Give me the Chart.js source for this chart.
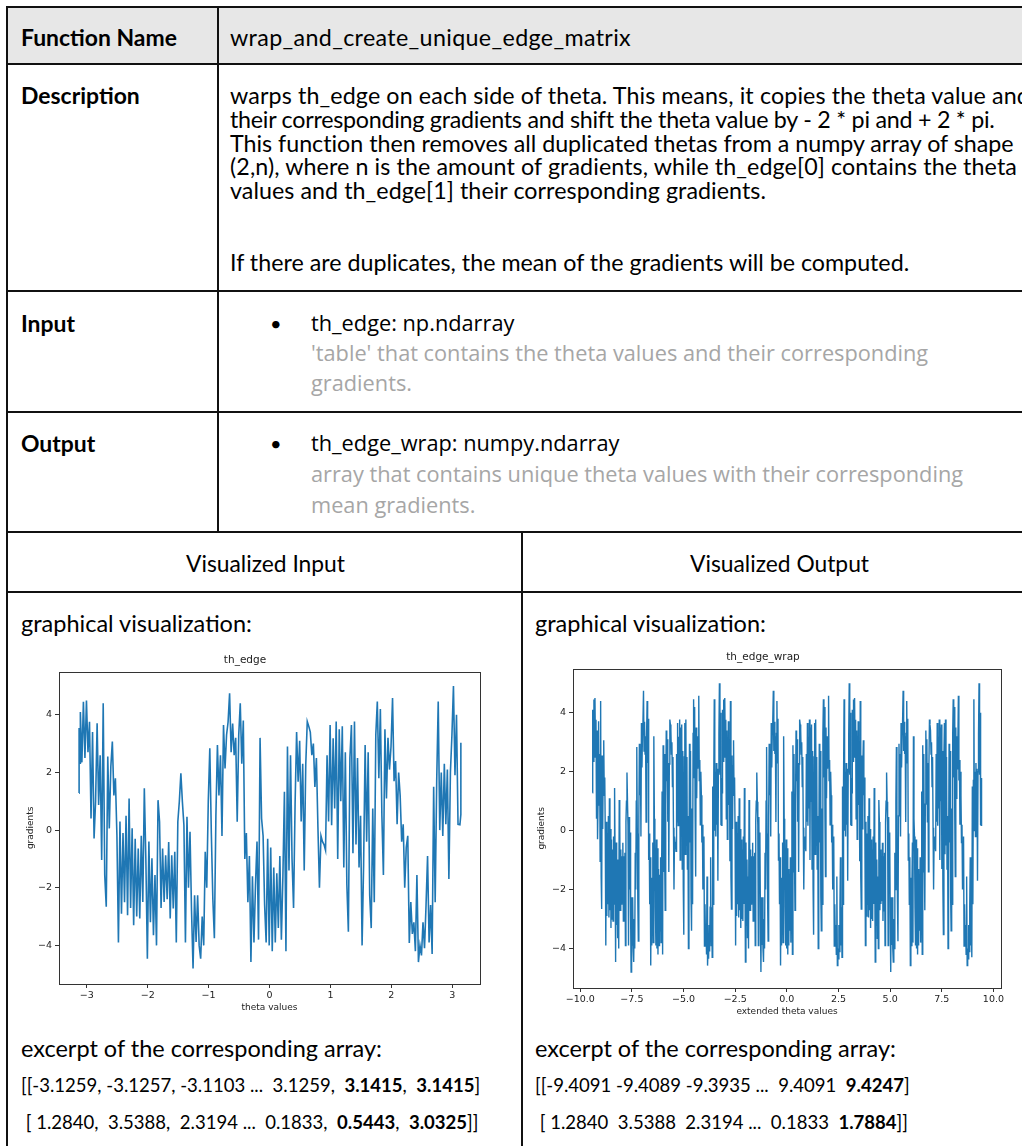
<!DOCTYPE html>
<html>
<head>
<meta charset="utf-8">
<script src="https://cdn.jsdelivr.net/npm/chart.js@4.4.0/dist/chart.umd.min.js"></script>
<style>
  html, body { margin: 0; padding: 0; background: #fff; }
  body { width: 1022px; height: 1146px; overflow: hidden; position: relative; font-family: Lato, "Open Sans", sans-serif; color: #000; }
  .t { position: absolute; white-space: pre; line-height: 24px; }
  .head { font-weight: bold; font-size: 20px; left: 21px; }
  .desc { font-size: 19.5px; left: 230px; }
  .item { font-family: "Open Sans", sans-serif; font-size: 18.5px; line-height: 30px; left: 311px; }
  .gray { color: #a6a6a6; }
  .bullet { font-size: 20px; left: 270px; line-height: 30px; }
  .vis { font-size: 20px; }
  .label { font-size: 22px; line-height: 28px; }
  .arr { font-size: 17px; }
  .hl, .vl { position: absolute; background: #111; }
  .hl { height: 2px; left: 6px; width: 1040px; }
  .vl { width: 2px; }
  canvas { position: absolute; }
</style>
</head>
<body>
<div style="position:absolute; left:8px; top:8px; width:1040px; height:55px; background:#e7e7e7;"></div>

<div class="hl" style="top:6px"></div>
<div class="hl" style="top:63px"></div>
<div class="hl" style="top:290px"></div>
<div class="hl" style="top:411px"></div>
<div class="hl" style="top:531px"></div>
<div class="hl" style="top:591px"></div>
<div class="vl" style="left:6px; top:6px; height:1140px"></div>
<div class="vl" style="left:217px; top:6px; height:527px"></div>
<div class="vl" style="left:521px; top:531px; height:615px"></div>

<div class="t head" data-group="head" data-w="156" style="top:25px">Function Name</div>
<div class="t head" data-group="head" style="top:83px">Description</div>
<div class="t head" data-group="head" style="top:311px">Input</div>
<div class="t head" data-group="head" style="top:431px">Output</div>

<div class="t desc" data-group="desc" data-ls="401" style="top:25px">wrap_and_create_unique_edge_matrix</div>
<div class="t desc" data-group="desc" data-ls="800" style="top:83px">warps th_edge on each side of theta. This means, it copies the theta value and</div>
<div class="t desc" data-group="desc" data-ls="764" style="top:106.75px">their corresponding gradients and shift the theta value by - 2 * pi and + 2 * pi.</div>
<div class="t desc" data-group="desc" data-ls="784" style="top:130.5px">This function then removes all duplicated thetas from a numpy array of shape</div>
<div class="t desc" data-group="desc" data-ls="787" style="top:154.25px">(2,n), where n is the amount of gradients, while th_edge[0] contains the theta</div>
<div class="t desc" data-group="desc" data-ls="536" style="top:178px">values and th_edge[1] their corresponding gradients.</div>
<div class="t desc" data-group="desc" data-w="679" style="top:250px">If there are duplicates, the mean of the gradients will be computed.</div>

<div class="t bullet" style="top:308px">•</div>
<div class="t item" data-group="item" style="top:308px">th_edge: np.ndarray</div>
<div class="t item gray" data-group="item" data-w="617" style="top:338px">'table' that contains the theta values and their corresponding</div>
<div class="t item gray" data-group="item" style="top:368px">gradients.</div>

<div class="t bullet" style="top:428px">•</div>
<div class="t item" data-group="item" style="top:428px">th_edge_wrap: numpy.ndarray</div>
<div class="t item gray" data-group="item" style="top:459px">array that contains unique theta values with their corresponding</div>
<div class="t item gray" data-group="item" style="top:490px">mean gradients.</div>

<div class="t vis" data-group="vis" data-w="159" style="top:551px; left:186px">Visualized Input</div>
<div class="t vis" data-group="vis" style="top:551px; left:690px">Visualized Output</div>

<div class="t label" data-group="label" data-w="231" style="top:609px; left:21px">graphical visualization:</div>
<div class="t label" data-group="label" style="top:609px; left:535px">graphical visualization:</div>
<div class="t label" data-group="label" style="top:1034px; left:21px">excerpt of the corresponding array:</div>
<div class="t label" data-group="label" style="top:1034px; left:535px">excerpt of the corresponding array:</div>

<div class="t arr" id="in-theta" data-group="arr" data-w="459" style="top:1073px; left:21px"></div>
<div class="t arr" id="in-grad" data-group="arr" style="top:1110px; left:21px"></div>
<div class="t arr" id="out-theta" data-group="arr" style="top:1073px; left:535px"></div>
<div class="t arr" id="out-grad" data-group="arr" style="top:1110px; left:535px"></div>

<canvas id="inputChart" width="490" height="368" style="left:10px; top:648px"></canvas>
<canvas id="outputChart" width="496" height="375" style="left:525px; top:645px"></canvas>

<script>
// th_edge[0]: theta values
const thetaValues = [
  -3.1259, -3.1257, -3.1103, -3.105, -3.08, -3.055, -3.03, -3.005, -2.98, -2.955,
  -2.93, -2.905, -2.88, -2.855, -2.83, -2.805, -2.78, -2.755, -2.73, -2.705,
  -2.68, -2.655, -2.63, -2.605, -2.58, -2.555, -2.53, -2.505, -2.48, -2.455,
  -2.43, -2.405, -2.38, -2.355, -2.33, -2.305, -2.28, -2.255, -2.23, -2.205,
  -2.18, -2.155, -2.13, -2.105, -2.08, -2.055, -2.03, -2.005, -1.98, -1.955,
  -1.93, -1.905, -1.88, -1.855, -1.83, -1.805, -1.78, -1.755, -1.73, -1.705,
  -1.68, -1.655, -1.63, -1.605, -1.58, -1.555, -1.53, -1.505, -1.48, -1.455,
  -1.43, -1.405, -1.38, -1.355, -1.33, -1.305, -1.28, -1.255, -1.23, -1.205,
  -1.18, -1.155, -1.13, -1.105, -1.08, -1.055, -1.03, -1.005, -0.98, -0.955,
  -0.93, -0.905, -0.88, -0.855, -0.83, -0.805, -0.78, -0.755, -0.73, -0.705,
  -0.68, -0.655, -0.63, -0.605, -0.58, -0.555, -0.53, -0.505, -0.48, -0.455,
  -0.43, -0.405, -0.38, -0.355, -0.33, -0.305, -0.28, -0.255, -0.23, -0.205,
  -0.18, -0.155, -0.13, -0.105, -0.08, -0.055, -0.03, -0.005, 0.02, 0.045,
  0.07, 0.095, 0.12, 0.145, 0.17, 0.195, 0.22, 0.245, 0.27, 0.295,
  0.32, 0.345, 0.37, 0.395, 0.42, 0.445, 0.47, 0.495, 0.52, 0.545,
  0.57, 0.595, 0.62, 0.645, 0.67, 0.695, 0.72, 0.745, 0.77, 0.795,
  0.82, 0.845, 0.87, 0.895, 0.92, 0.945, 0.97, 0.995, 1.02, 1.045,
  1.07, 1.095, 1.12, 1.145, 1.17, 1.195, 1.22, 1.245, 1.27, 1.295,
  1.32, 1.345, 1.37, 1.395, 1.42, 1.445, 1.47, 1.495, 1.52, 1.545,
  1.57, 1.595, 1.62, 1.645, 1.67, 1.695, 1.72, 1.745, 1.77, 1.795,
  1.82, 1.845, 1.87, 1.895, 1.92, 1.945, 1.97, 1.995, 2.02, 2.045,
  2.07, 2.095, 2.12, 2.145, 2.17, 2.195, 2.22, 2.245, 2.27, 2.295,
  2.32, 2.345, 2.37, 2.395, 2.42, 2.445, 2.47, 2.495, 2.52, 2.545,
  2.57, 2.595, 2.62, 2.645, 2.67, 2.695, 2.72, 2.745, 2.77, 2.795,
  2.82, 2.845, 2.87, 2.895, 2.92, 2.945, 2.97, 2.995, 3.02, 3.045,
  3.07, 3.095, 3.1259, 3.1415, 3.1415
];

// th_edge[1]: gradients at those thetas
const gradientValues = [
  1.284, 3.5388, 2.3194, 4.1, 2.35, 4.45, 2.5, 4.5, 2.7, 3.76,
  0.4, 3.4, -0.29, 1.0, 3.71, 0.87, 2.6, -1.04, 4.4, -1.56,
  -2.66, 2.55, 0.06, 2.2, 3.07, 1.2, 1.8, -0.17, -3.9, 0.3,
  -2.9, -0.1, -2.5, 0.5, -2.95, 1.1, -2.7, 0.06, -3.3, -0.3,
  -3.0, -0.64, -3.07, -0.2, -2.49, 1.45, -1.0, -4.46, -0.4, -3.2,
  -0.98, -3.65, -1.56, -4.0, 1.04, 0.29, -2.7, -0.64, -2.49, -0.87,
  -2.4, -0.41, -3.07, -0.87, -2.72, -0.75, -3.9, 0.29, 1.0, 1.97,
  0.98, 0.17, -3.9, 0.46, -2.0, -0.06, -2.8, -4.8, -2.26, -3.88,
  -2.26, -4.0, -4.46, -3.0, -4.0, -0.75, -2.0, 1.0, 2.84, -0.1,
  -2.4, -3.75, 0.5, 2.95, 1.2, 2.6, -0.2, 3.65, 2.14, 3.3,
  3.75, 4.75, 2.7, 3.7, 2.6, 3.2, 0.29, 3.3, 4.4, 2.3,
  3.8, -1.0, -0.1, -2.5, -0.9, -4.58, -1.6, -3.9, -1.9, -0.4,
  -3.8, 3.2, 0.4, -0.2, -2.6, -3.9, -0.3, -4.0, -0.6, -4.2,
  -1.3, -3.9, -1.5, -3.4, -0.9, -3.8, -1.6, 1.33, -4.2, 2.9,
  -1.4, 2.6, -1.0, -2.7, 0.9, 3.4, 1.68, 3.1, 0.3, 2.3,
  -1.4, 2.26, 3.77, 3.6, 3.4, 2.6, 3.0, 1.5, 2.5, 0.1,
  -2.0, -0.2, -0.4, -0.5, -0.7, 2.6, 0.3, 3.65, 0.17, 3.19,
  0.75, 3.77, -1.0, 3.5, 1.0, 3.6, -1.3, 2.7, -1.9, -3.53,
  2.5, 3.65, -0.8, 3.77, -0.5, 2.5, -1.3, 0.5, -4.0, -1.2,
  2.95, -0.4, 2.7, -2.26, -3.4, 0.75, -2.5, 3.3, 4.46, 1.8,
  4.2, 0.5, -1.56, 3.5, 1.1, 3.2, 2.1, 2.9, 4.58, 1.7,
  2.4, 0.2, 2.0, 1.2, -0.4, 0.2, -2.0, -0.6, -0.2, -3.92,
  -2.5, -3.6, -3.2, -4.2, -1.56, -4.58, -4.0, -4.35, -3.2, -4.1,
  -2.6, -0.9, -3.9, -2.6, -4.3, 1.5, -2.5, 1.7, 4.46, 0.0,
  2.0, -0.2, 2.3, 0.2, 2.1, -1.7, 2.0, 3.3, 5.0, 1.9,
  4.0, 0.2, 0.1833, 0.5443, 3.0325
];

// Axis ticks
const inputXTicks = [-3, -2, -1, 0, 1, 2, 3];
const outputXTicks = [-10, -7.5, -5, -2.5, 0, 2.5, 5, 7.5, 10];
const yTicks = [-4, -2, 0, 2, 4];
const wrapShifts = [-2 * Math.PI, 0, 2 * Math.PI];

// wrap: copy thetas shifted by -2pi, 0, +2pi, then merge duplicated thetas (mean of gradients)
function wrapAndCreateUniqueEdgeMatrix(thetas, grads) {
  const groups = new Map();
  wrapShifts.forEach(shift => {
    thetas.forEach((t, i) => {
      const key = (t + shift).toFixed(4);
      if (!groups.has(key)) groups.set(key, { theta: +key, sum: 0, n: 0 });
      const g = groups.get(key);
      g.sum += grads[i];
      g.n += 1;
    });
  });
  const rows = [...groups.values()].sort((a, b) => a.theta - b.theta);
  return { theta: rows.map(r => r.theta), grad: rows.map(r => r.sum / r.n) };
}

const wrapped = wrapAndCreateUniqueEdgeMatrix(thetaValues, gradientValues);

// Excerpt text under the plots
const f4 = v => v.toFixed(4);
const n = thetaValues.length;
const m = wrapped.theta.length;
document.getElementById('in-theta').innerHTML =
  `[[${f4(thetaValues[0])}, ${f4(thetaValues[1])}, ${f4(thetaValues[2])} ...  ${f4(thetaValues[n - 3])},  <b>${f4(thetaValues[n - 2])}</b>,  <b>${f4(thetaValues[n - 1])}</b>]`;
document.getElementById('in-grad').innerHTML =
  ` [ ${f4(gradientValues[0])},  ${f4(gradientValues[1])},  ${f4(gradientValues[2])} ...  ${f4(gradientValues[n - 3])},  <b>${f4(gradientValues[n - 2])}</b>,  <b>${f4(gradientValues[n - 1])}</b>]]`;
document.getElementById('out-theta').innerHTML =
  `[[${f4(wrapped.theta[0])} ${f4(wrapped.theta[1])} ${f4(wrapped.theta[2])} ...  ${f4(wrapped.theta[m - 2])}  <b>${f4(wrapped.theta[m - 1])}</b>]`;
document.getElementById('out-grad').innerHTML =
  ` [ ${f4(wrapped.grad[0])}  ${f4(wrapped.grad[1])}  ${f4(wrapped.grad[2])} ...  ${f4(wrapped.grad[m - 2])}  <b>${f4(wrapped.grad[m - 1])}</b>]]`;

// Fit text to the widths seen in the reference: font size per group, then letter spacing per line
function fitGroup(name) {
  const ref = document.querySelector(`[data-group="${name}"][data-w]`);
  ref.style.letterSpacing = '0px';
  const fs = parseFloat(getComputedStyle(ref).fontSize);
  const size = fs * (+ref.dataset.w) / ref.getBoundingClientRect().width;
  document.querySelectorAll(`[data-group="${name}"]`).forEach(el => { el.style.fontSize = size + 'px'; });
}
function fitSpacing() {
  document.querySelectorAll('[data-ls]').forEach(el => {
    el.style.letterSpacing = '0px';
    const w = el.getBoundingClientRect().width;
    el.style.letterSpacing = ((+el.dataset.ls - w) / el.textContent.length) + 'px';
  });
}
function fitAll() {
  ['head', 'desc', 'item', 'vis', 'label', 'arr'].forEach(fitGroup);
  fitSpacing();
}
fitAll();
if (document.fonts) document.fonts.ready.then(fitAll);

// Charts
Chart.defaults.font.family = '"DejaVu Sans", sans-serif';
Chart.defaults.color = '#222';

const framePlugin = {
  id: 'frame',
  afterDraw(chart) {
    const { ctx, chartArea: a } = chart;
    ctx.save();
    ctx.strokeStyle = '#333';
    ctx.lineWidth = 1;
    ctx.strokeRect(Math.round(a.left) + 0.5, Math.round(a.top) + 0.5, Math.round(a.width), Math.round(a.height));
    ctx.restore();
  }
};

const minus = s => String(s).replace('-', '\u2212');

function makeChart(canvasId, opts) {
  const tickFont = { size: 9.5 };
  const grid = { display: true, drawOnChartArea: false, drawTicks: true, tickLength: 4, color: '#333', lineWidth: 1 };
  return new Chart(document.getElementById(canvasId), {
    type: 'line',
    data: {
      datasets: [{
        data: opts.xs.map((x, i) => ({ x: x, y: opts.ys[i] })),
        borderColor: '#1f77b4',
        borderWidth: opts.lineWidth,
        pointRadius: 0,
        tension: 0,
        fill: false
      }]
    },
    options: {
      responsive: false,
      animation: false,
      devicePixelRatio: 1,
      layout: { padding: { left: 0, right: 20, top: 0, bottom: 0 } },
      plugins: {
        legend: { display: false },
        tooltip: { enabled: false },
        title: {
          display: true,
          text: opts.title,
          color: '#222',
          font: { size: 10.5, weight: 'normal' },
          padding: { top: 6, bottom: 5 }
        }
      },
      scales: {
        x: {
          type: 'linear',
          min: opts.xMin,
          max: opts.xMax,
          afterBuildTicks: s => { s.ticks = opts.xTicks.map(v => ({ value: v })); },
          afterFit: s => { s.height = 32; },
          ticks: { font: tickFont, color: '#222', padding: 2, maxRotation: 0, autoSkip: false, callback: opts.xFmt },
          title: { display: true, text: opts.xLabel, color: '#222', font: { size: 9 }, padding: { top: 2, bottom: 3 } },
          grid: grid,
          border: { display: false }
        },
        y: {
          type: 'linear',
          min: -5.34,
          max: 5.5,
          afterBuildTicks: s => { s.ticks = yTicks.map(v => ({ value: v })); },
          afterFit: s => { s.width = opts.yWidth; },
          ticks: { font: tickFont, color: '#222', padding: 3, callback: v => minus(v) },
          title: { display: true, text: 'gradients', color: '#222', font: { size: 9 }, padding: { top: opts.yTitlePad, bottom: 0 } },
          grid: grid,
          border: { display: false }
        }
      }
    },
    plugins: [framePlugin]
  });
}

makeChart('inputChart', {
  xs: thetaValues, ys: gradientValues,
  title: 'th_edge', xLabel: 'theta values',
  xMin: -1.1 * Math.PI, xMax: 1.1 * Math.PI,
  xTicks: inputXTicks, xFmt: v => minus(v),
  yWidth: 49, yTitlePad: 15, lineWidth: 1.6
});

makeChart('outputChart', {
  xs: wrapped.theta, ys: wrapped.grad,
  title: 'th_edge_wrap', xLabel: 'extended theta values',
  xMin: -10.351, xMax: 10.366,
  xTicks: outputXTicks, xFmt: v => minus(Number(v).toFixed(1)),
  yWidth: 48, yTitlePad: 11, lineWidth: 1.4
});
</script>
</body>
</html>
